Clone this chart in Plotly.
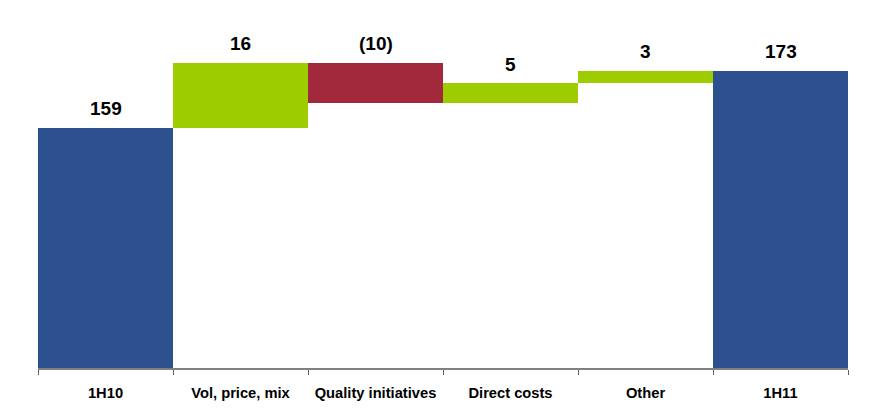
import plotly.graph_objects as go

categories = ["1H10", "Vol, price, mix", "Quality initiatives", "Direct costs", "Other", "1H11"]
values = [159, 16, -10, 5, 3, 173]
kinds = ["total", "delta", "delta", "delta", "delta", "total"]
value_labels = ["159", "16", "(10)", "5", "3", "173"]

BLUE = "#2D508F"
GREEN = "#9DCC00"
RED = "#A2283C"
FONT = "Arial, Liberation Sans, sans-serif"

bases, heights, colors, tops = [], [], [], []
running = 0
for v, k in zip(values, kinds):
    if k == "total":
        bases.append(0)
        heights.append(v)
        colors.append(BLUE)
        tops.append(v)
        running = v
    else:
        lo = min(running, running + v)
        bases.append(lo)
        heights.append(abs(v))
        colors.append(GREEN if v >= 0 else RED)
        tops.append(lo + abs(v))
        running += v

fig = go.Figure()
fig.add_trace(go.Bar(
    x=categories, y=heights, base=bases,
    marker=dict(color=colors, line=dict(width=0)),
    hoverinfo="skip",
))

for c, t, lab in zip(categories, tops, value_labels):
    fig.add_annotation(x=c, y=t, text="<b>" + lab + "</b>", showarrow=False,
                       yanchor="middle", yshift=19,
                       font=dict(size=19, color="#000000", family=FONT))

fig.update_layout(
    width=888, height=416,
    margin=dict(l=30, r=48, t=12, b=56),
    paper_bgcolor="white", plot_bgcolor="white",
    bargap=0, showlegend=False,
    font=dict(family=FONT, color="#000000"),
)
fig.update_xaxes(
    type="category", range=[-0.5, 5.5],
    tickvals=categories, ticktext=["<b>" + c + "</b>" for c in categories],
    showline=True, linecolor="#808080", linewidth=1.5,
    ticks="outside", tickson="boundaries", ticklen=5, tickcolor="#606060", tickwidth=1,
    ticklabelstandoff=11,
    tickfont=dict(size=14.7, family=FONT, color="#000000"),
    showgrid=False,
)
fig.update_yaxes(range=[100, 185.5], visible=False, showgrid=False, zeroline=False)

fig.write_html("out.html")
